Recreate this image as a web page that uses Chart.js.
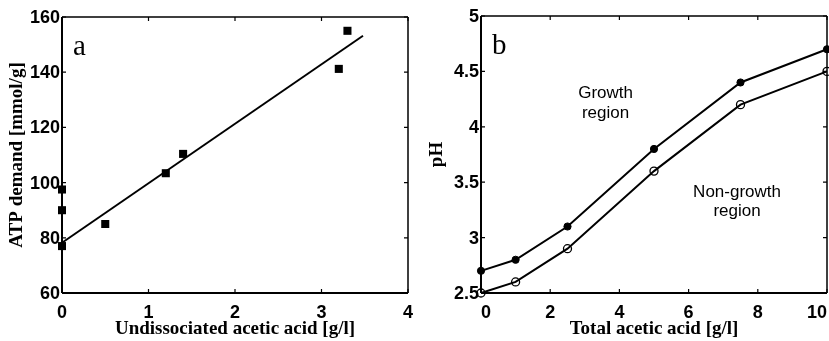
<!DOCTYPE html>
<html>
<head>
<meta charset="utf-8">
<script src="https://cdn.jsdelivr.net/npm/chart.js@4/dist/chart.umd.min.js"></script>
<style>
  html, body { margin: 0; padding: 0; background: #fff; }
  #wrap { position: relative; width: 829px; height: 341px; overflow: hidden; background: #fff; }
  canvas { position: absolute; top: 0; }
  #cA { left: 0; }
  #cB { left: 420px; }
</style>
</head>
<body>
<div id="wrap">
  <canvas id="cA" width="420" height="341"></canvas>
  <canvas id="cB" width="430" height="341"></canvas>
</div>
<script>
// ---- Panel a: ATP demand vs undissociated acetic acid ----
const acidUndiss = [0, 0, 0, 0.5, 1.2, 1.4, 3.2, 3.3];
const atpDemand  = [97.5, 90, 77, 85, 103.4, 110.4, 141.2, 155];
// linear fit, end points
const fitX = [0, 3.48];
const fitY = [78.2, 153.2];
const atpTicks = [60, 80, 100, 120, 140, 160];
const undissTicks = [0, 1, 2, 3, 4];

// ---- Panel b: pH boundary vs total acetic acid ----
const acidTotal   = [0, 1, 2.5, 5, 7.5, 10];
const phGrowth    = [2.7, 2.8, 3.1, 3.8, 4.4, 4.7];
const phNoGrowth  = [2.5, 2.6, 2.9, 3.6, 4.2, 4.5];
const phTicks = [2.5, 3, 3.5, 4, 4.5, 5];
const totalTicks = [0, 2, 4, 6, 8, 10];

const regionLabels = [
  { lines: ['Growth', 'region'], x: 3.6, y: [4.3, 4.125] },
  { lines: ['Non-growth', 'region'], x: 7.4, y: [3.41, 3.24] }
];

const SANS = "'Liberation Sans', Arial, sans-serif";
const SERIF = "'Liberation Serif', 'Times New Roman', serif";

const pairs = (xs, ys) => xs.map((x, i) => ({ x, y: ys[i] }));

// box frame with inward tick marks on all four sides, plus panel letter and texts
function framePlugin(letter, notes) {
  return {
    id: 'frame_' + letter,
    afterDatasetsDraw(chart) {
      const { ctx, chartArea: a, scales: { x, y } } = chart;
      ctx.save();
      ctx.strokeStyle = '#000';
      ctx.lineWidth = 1.5;
      ctx.beginPath();
      ctx.moveTo(a.left, a.top); ctx.lineTo(a.right, a.top);
      ctx.moveTo(a.right, a.top); ctx.lineTo(a.right, a.bottom);
      ctx.stroke();
      ctx.lineWidth = 2;
      ctx.beginPath();
      ctx.moveTo(a.left, a.top); ctx.lineTo(a.left, a.bottom);
      ctx.moveTo(a.left, a.bottom); ctx.lineTo(a.right, a.bottom);
      ctx.stroke();
      ctx.lineWidth = 1.2;
      ctx.beginPath();
      const len = 4;
      x.ticks.forEach(t => {
        const px = x.getPixelForValue(t.value);
        ctx.moveTo(px, a.bottom); ctx.lineTo(px, a.bottom - len);
        ctx.moveTo(px, a.top); ctx.lineTo(px, a.top + len);
      });
      y.ticks.forEach(t => {
        const py = y.getPixelForValue(t.value);
        ctx.moveTo(a.left, py); ctx.lineTo(a.left + len, py);
        ctx.moveTo(a.right, py); ctx.lineTo(a.right - len, py);
      });
      ctx.stroke();

      ctx.fillStyle = '#000';
      ctx.font = '29px ' + SERIF;
      ctx.textAlign = 'left';
      ctx.textBaseline = 'alphabetic';
      ctx.fillText(letter, a.left + 11, a.top + 38);

      ctx.font = '17px ' + SANS;
      ctx.textAlign = 'center';
      ctx.textBaseline = 'middle';
      (notes || []).forEach(n => {
        n.lines.forEach((s, i) => {
          ctx.fillText(s, x.getPixelForValue(n.x), y.getPixelForValue(n.y[i]));
        });
      });
      ctx.restore();
    }
  };
}

function axes(xTicks, xTitle, yTicks, yTitle, yWidth, xAlign) {
  const tickFont = { family: SANS, size: 18, weight: 'bold' };
  const titleFont = { family: SERIF, size: 19, weight: 'bold' };
  const fmt = v => String(+v);
  return {
    x: {
      type: 'linear', min: xTicks[0], max: xTicks[xTicks.length - 1],
      afterBuildTicks(s) { s.ticks = xTicks.map(v => ({ value: v })); },
      ticks: { color: '#000', font: tickFont, padding: 9, maxRotation: 0, align: xAlign, callback: fmt },
      grid: { display: false, drawTicks: false },
      border: { display: false },
      title: { display: true, text: xTitle, color: '#000', font: titleFont, padding: { top: 0, bottom: 1 } },
      afterFit(s) { s.height = 48; s.paddingLeft = 0; s.paddingRight = 0; }
    },
    y: {
      type: 'linear', min: yTicks[0], max: yTicks[yTicks.length - 1],
      afterBuildTicks(s) { s.ticks = yTicks.map(v => ({ value: v })); },
      ticks: { color: '#000', font: tickFont, padding: 2, labelOffset: 1, callback: fmt },
      grid: { display: false, drawTicks: false },
      border: { display: false },
      title: { display: true, text: yTitle, color: '#000', font: titleFont, padding: { top: 6, bottom: 0 } },
      afterFit(s) { s.width = yWidth; s.paddingTop = 0; s.paddingBottom = 0; }
    }
  };
}

const common = {
  responsive: false,
  animation: false,
  devicePixelRatio: 1,
  plugins: { legend: { display: false }, tooltip: { enabled: false } }
};

new Chart(document.getElementById('cA'), {
  type: 'scatter',
  data: {
    datasets: [
      {
        data: pairs(fitX, fitY), showLine: true, borderColor: '#000', borderWidth: 2,
        pointRadius: 0, clip: false
      },
      {
        data: pairs(acidUndiss, atpDemand), pointStyle: 'rect', pointRadius: 5.7,
        backgroundColor: '#000', borderColor: '#000', borderWidth: 0, clip: false
      }
    ]
  },
  options: Object.assign({}, common, {
    layout: { padding: { top: 17, right: 12, left: 0, bottom: 0 } },
    scales: axes(undissTicks, 'Undissociated acetic acid [g/l]', atpTicks, 'ATP demand [mmol/g]', 62, 'center')
  }),
  plugins: [framePlugin('a', [])]
});

new Chart(document.getElementById('cB'), {
  type: 'scatter',
  data: {
    datasets: [
      {
        data: pairs(acidTotal, phGrowth), showLine: true, borderColor: '#000', borderWidth: 2,
        pointRadius: 3.6, backgroundColor: '#000', pointBorderWidth: 1, clip: false
      },
      {
        data: pairs(acidTotal, phNoGrowth), showLine: true, borderColor: '#000', borderWidth: 2,
        pointRadius: 4, pointBackgroundColor: 'rgba(0,0,0,0)', pointBorderColor: '#000',
        pointBorderWidth: 1.3, clip: false
      }
    ]
  },
  options: Object.assign({}, common, {
    layout: { padding: { top: 16, right: 23, left: 0, bottom: 0 } },
    scales: axes(totalTicks, 'Total acetic acid [g/l]', phTicks, 'pH', 61, 'inner')
  }),
  plugins: [framePlugin('b', regionLabels)]
});
</script>
</body>
</html>
